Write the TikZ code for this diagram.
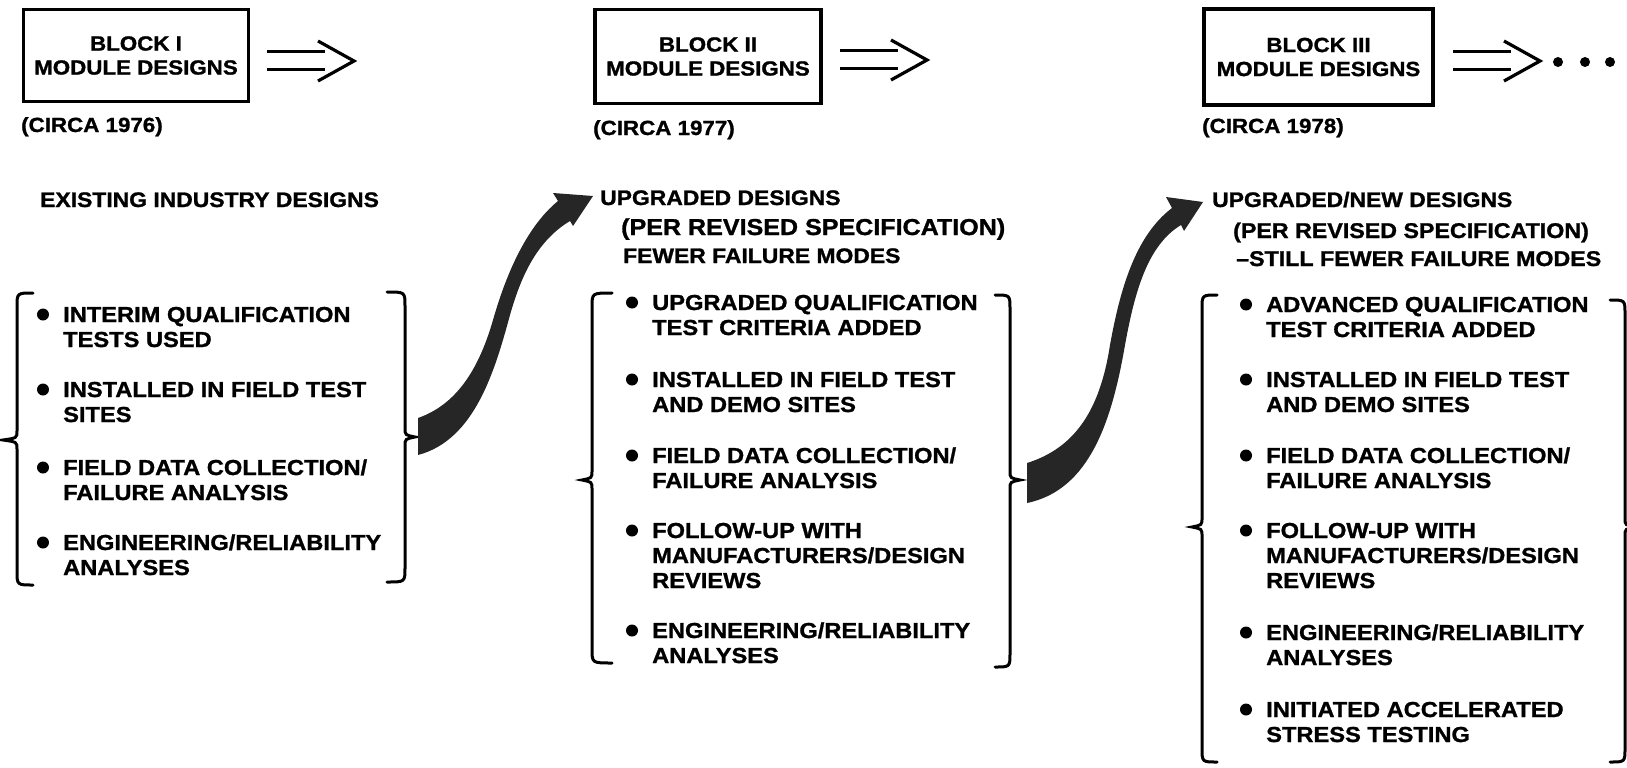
\documentclass[tikz,border=0pt]{standalone}
\usepackage{fontspec}
\newfontfamily\boldsans{Liberation Sans Bold}[FakeStretch=1.09, FakeBold=1.2]
\newcommand{\itemfont}{\fontsize{21.7}{25}\selectfont\boldsans}
\newcommand{\headfont}{\fontsize{21}{25}\selectfont\boldsans}
\newcommand{\specfont}{\fontsize{23}{28}\selectfont\boldsans}
\newcommand{\itemlines}[1]{\begin{tabular}[t]{@{}l@{}}#1\end{tabular}}

\begin{document}
\begin{tikzpicture}[x=1pt,y=-1pt]
  \tikzset{BlockStyle/.style = {draw,
                                line width     = 3.5pt,
                                align          = center,
                                font           = \fontsize{20.5}{24}\selectfont\boldsans,
                                inner sep      = 0pt}}
  \tikzset{ItemStyle/.style  = {anchor         = base west,
                                inner sep      = 0pt,
                                font           = \itemfont}}
  \tikzset{HeadStyle/.style  = {anchor         = base west,
                                inner sep      = 0pt,
                                font           = \headfont}}
  \tikzset{BraceStyle/.style = {line width     = 3pt,
                                line cap       = round}}
  \tikzset{FlowStyle/.style  = {fill           = black!85}}

\useasboundingbox (0,0) rectangle (1627,768);

\node[BlockStyle, minimum width=225, minimum height=92] (block1) at (136,55.5) {BLOCK I\\MODULE DESIGNS};
\node[BlockStyle, minimum width=226, minimum height=94] (block2) at (708,56.5) {BLOCK II\\MODULE DESIGNS};
\node[BlockStyle, minimum width=229, minimum height=96] (block3) at (1318.5,57) {BLOCK III\\MODULE DESIGNS};

\node[HeadStyle, font=\fontsize{20.5}{24}\selectfont\boldsans] (circa1) at (21,132)   {(CIRCA 1976)};
\node[HeadStyle, font=\fontsize{20.5}{24}\selectfont\boldsans] (circa2) at (593,135)  {(CIRCA 1977)};
\node[HeadStyle, font=\fontsize{20.5}{24}\selectfont\boldsans] (circa3) at (1202,133) {(CIRCA 1978)};

\foreach \ax/\ay in {267/61, 840/60, 1453/61} {
  \draw[line width=3pt] (\ax,\ay-9) -- (\ax+58,\ay-9);
  \draw[line width=3pt] (\ax,\ay+9) -- (\ax+58,\ay+9);
  \draw[line width=3.2pt] (\ax+51,\ay-20) -- (\ax+87,\ay) -- (\ax+51,\ay+20);
}
\fill (1558,62) circle (5);
\fill (1585,62) circle (5);
\fill (1610,62) circle (5);

\node[HeadStyle] (head1) at (40,207) {EXISTING INDUSTRY DESIGNS};

\node[HeadStyle] (head2) at (600,205)  {UPGRADED DESIGNS};
\node[HeadStyle, font=\specfont] (spec2) at (621,235) {(PER REVISED SPECIFICATION)};
\node[HeadStyle] (fewer2) at (623,263) {FEWER FAILURE MODES};

\node[HeadStyle] (head3) at (1212,207) {UPGRADED/NEW DESIGNS};
\node[HeadStyle, font=\fontsize{21.3}{25}\selectfont\boldsans] (spec3) at (1233,238) {(PER REVISED SPECIFICATION)};
\node[HeadStyle, font=\fontsize{21.3}{25}\selectfont\boldsans] (fewer3) at (1236,266) {\textendash STILL FEWER FAILURE MODES};

% block I list
\node[ItemStyle] (interim1) at (63,322) {\itemlines{INTERIM QUALIFICATION\\TESTS USED}};
\node[ItemStyle] (field1)   at (63,397) {\itemlines{INSTALLED IN FIELD TEST\\SITES}};
\node[ItemStyle] (data1)    at (63,475) {\itemlines{FIELD DATA COLLECTION/\\FAILURE ANALYSIS}};
\node[ItemStyle] (eng1)     at (63,550) {\itemlines{ENGINEERING/RELIABILITY\\ANALYSES}};

% block II list
\node[ItemStyle] (qual2)    at (652,310) {\itemlines{UPGRADED QUALIFICATION\\TEST CRITERIA ADDED}};
\node[ItemStyle] (field2)   at (652,387) {\itemlines{INSTALLED IN FIELD TEST\\AND DEMO SITES}};
\node[ItemStyle] (data2)    at (652,463) {\itemlines{FIELD DATA COLLECTION/\\FAILURE ANALYSIS}};
\node[ItemStyle] (follow2)  at (652,538) {\itemlines{FOLLOW-UP WITH\\MANUFACTURERS/DESIGN\\REVIEWS}};
\node[ItemStyle] (eng2)     at (652,638) {\itemlines{ENGINEERING/RELIABILITY\\ANALYSES}};

% block III list
\node[ItemStyle] (qual3)    at (1266,312) {\itemlines{ADVANCED QUALIFICATION\\TEST CRITERIA ADDED}};
\node[ItemStyle] (field3)   at (1266,387) {\itemlines{INSTALLED IN FIELD TEST\\AND DEMO SITES}};
\node[ItemStyle] (data3)    at (1266,463) {\itemlines{FIELD DATA COLLECTION/\\FAILURE ANALYSIS}};
\node[ItemStyle] (follow3)  at (1266,538) {\itemlines{FOLLOW-UP WITH\\MANUFACTURERS/DESIGN\\REVIEWS}};
\node[ItemStyle] (eng3)     at (1266,640) {\itemlines{ENGINEERING/RELIABILITY\\ANALYSES}};
\node[ItemStyle] (accel3)   at (1266,717) {\itemlines{INITIATED ACCELERATED\\STRESS TESTING}};

\foreach \n in {interim1, field1, data1, eng1, qual2, field2, data2, follow2, eng2,
                qual3, field3, data3, follow3, eng3, accel3}
  \fill ([xshift=-20pt, yshift=7.5pt]\n.base west) circle (6);

% braces
\foreach \hx/\bx/\tx/\yt/\ym/\yb in {33/17/3/293/440/585, 387/405/415/292/437/582,
                                    612/592/582/293/480/663, 995/1010/1020/295/480/667,
                                    1217/1202/1192/295/527/762, 1610/1625/1635/300/527/762}
  \draw[BraceStyle] (\hx,\yt) .. controls (\bx,\yt) .. (\bx,\yt+14) -- (\bx,\ym-9)
        .. controls (\bx,\ym-2) .. (\tx,\ym) .. controls (\bx,\ym+2) .. (\bx,\ym+9)
        -- (\bx,\yb-14) .. controls (\bx,\yb) .. (\hx,\yb);

% flow arrows
\coordinate (from1) at (418,437);
\coordinate (to2)   at (593,196);
\coordinate (from2) at (1027,483);
\coordinate (to3)   at (1203,202);

\fill[FlowStyle] (418,418) .. controls (455,405) and (478,372) .. (493,320)
      .. controls (505,278) and (525,228) .. (558,201)
      -- (553,193) -- (to2) -- (573,226) -- (570,221)
      .. controls (535,242) and (520,280) .. (510,315)
      .. controls (495,370) and (475,440) .. (418,455) -- cycle;

\fill[FlowStyle] (1027,463) .. controls (1075,448) and (1100,410) .. (1110,345)
      .. controls (1120,290) and (1135,236) .. (1172,208)
      -- (1166,197) -- (to3) -- (1184,231) -- (1181,225)
      .. controls (1148,245) and (1135,290) .. (1125,345)
      .. controls (1112,420) and (1090,490) .. (1027,503) -- cycle;

\end{tikzpicture}
\end{document}
